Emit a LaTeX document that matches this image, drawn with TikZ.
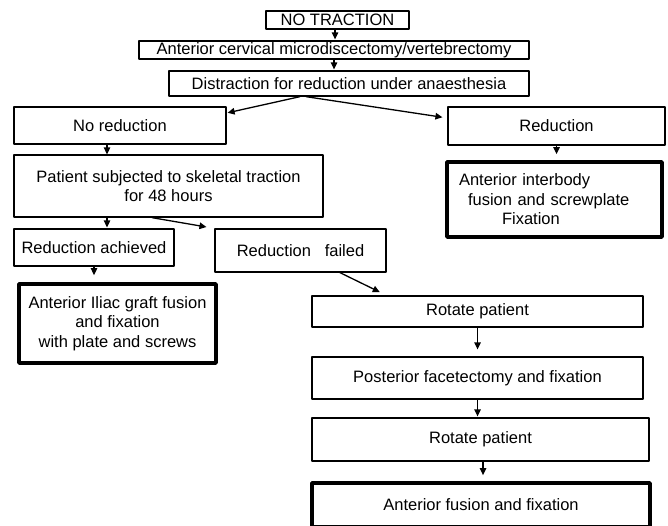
\documentclass[tikz,border=0pt]{standalone}
\usepackage{fontspec}
\setmainfont{Liberation Sans}
\usetikzlibrary{arrows.meta}
\begin{document}
\begin{tikzpicture}[x=1pt,y=-1pt,line join=round,line width=1.3pt,font=\fontsize{16.5}{19.5}\selectfont,
	box/.style={draw,inner sep=0pt,align=center},
	heavy/.style={box,line width=3.8pt},
	arr/.style={-{Triangle[length=7pt,width=6.5pt]},line width=1.3pt,shorten >=1pt}]
	\useasboundingbox (0,0) rectangle (668,525);
	\path
	(337.5,20) node[box,minimum width=143,minimum height=18] (notraction) {NO TRACTION}
	(334,50) node[box,minimum width=390,minimum height=18] (cervical) {Anterior cervical microdiscectomy/vertebrectomy}
	(349,83.5) node[box,minimum width=360,minimum height=25] (distraction) {Distraction for reduction under anaesthesia}
	(120,125.5) node[box,minimum width=212,minimum height=37] (noreduction) {No reduction}
	(556.5,126) node[box,minimum width=217,minimum height=38] (reduction) {Reduction}
	(168.5,186) node[box,minimum width=309,minimum height=62] (patient) {Patient subjected to skeletal traction\\for 48 hours}
	(554.5,199.5) node[heavy,minimum width=215,minimum height=75,text width=191,align=left] (interbody)
		{Anterior interbody\\\hspace*{9pt}fusion and screwplate\\\hspace*{43pt}Fixation}
	(94,247.5) node[box,minimum width=160,minimum height=37] (achieved) {Reduction achieved}
	(300.5,250.5) node[box,minimum width=171,minimum height=43] (failed) {Reduction\ \ \ failed}
	(117.5,323.5) node[heavy,minimum width=197,minimum height=79] (iliac) {Anterior Iliac graft fusion\\and fixation\\with plate and screws}
	(477.5,311.5) node[box,minimum width=331,minimum height=31] (rotateA) {Rotate patient}
	(477.5,378) node[box,minimum width=331,minimum height=42] (posterior) {Posterior facetectomy and fixation}
	(480.5,439.5) node[box,minimum width=337,minimum height=43] (rotateB) {Rotate patient}
	(481,505) node[heavy,minimum width=338,minimum height=44] (fusion) {Anterior fusion and fixation}
	;
	\draw[arr] ([xshift=-2.5pt]notraction.south) -- ([xshift=-2.5pt]notraction.south |- cervical.north);
	\draw[arr] (cervical.south) -- (cervical.south |- distraction.north);
	\draw[arr] ([xshift=-49pt]distraction.south) -- ([yshift=12.5pt]noreduction.east);
	\draw[arr,shorten >=5pt] ([xshift=-43pt]distraction.south) -- ([yshift=8pt]reduction.west);
	\draw[arr,shorten >=6pt] (reduction.south) -- (reduction.south |- interbody.north);
	\draw[arr,shorten >=0pt] ([xshift=-13pt]noreduction.south) -- ([xshift=-13pt]noreduction.south |- patient.north);
	\draw[arr] ([xshift=-61.5pt]patient.south) -- ([xshift=-61.5pt]patient.south |- achieved.north);
	\draw[arr,shorten >=8pt] ([xshift=-16.5pt]patient.south) -- (failed.north west);
	\draw[arr,shorten >=7pt] (achieved.south) -- (achieved.south |- iliac.north);
	\draw[arr,shorten >=7.5pt] ([xshift=39.5pt]failed.south) -- ([xshift=-91pt]rotateA.north);
	\draw[arr,shorten >=7pt] (rotateA.south) -- (rotateA.south |- posterior.north);
	\draw[arr] (posterior.south) -- (posterior.south |- rotateB.north);
	\draw[arr,shorten >=6pt] ([xshift=2.5pt]rotateB.south) -- ([xshift=2.5pt]rotateB.south |- fusion.north);
\end{tikzpicture}
\end{document}
